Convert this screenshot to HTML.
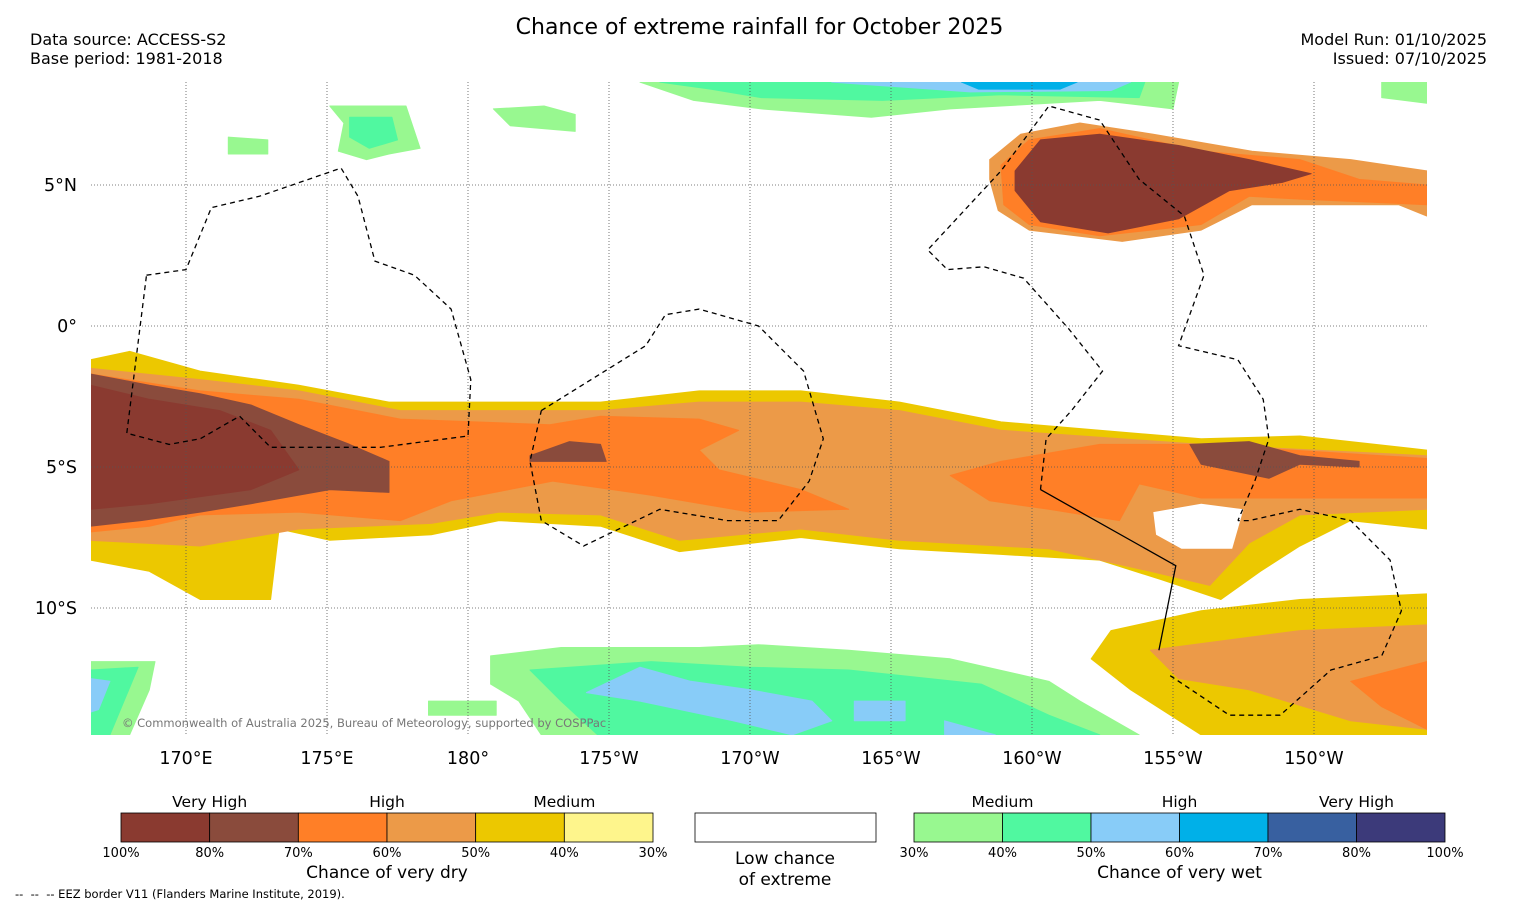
<!DOCTYPE html>
<html><head><meta charset="utf-8"><style>
body{margin:0;background:#fff;font-family:"DejaVu Sans","Liberation Sans",sans-serif;}
#wrap{position:relative;width:1517px;height:908px;overflow:hidden;background:#fff}
.t{position:absolute;white-space:nowrap;color:#000}
svg text{font-family:"DejaVu Sans","Liberation Sans",sans-serif;}
</style></head><body>
<div id="wrap">
<div class="t" style="left:0;width:1519px;text-align:center;top:15px;font-size:22px">Chance of extreme rainfall for October 2025</div>
<div class="t" style="left:30px;top:30px;font-size:16px;line-height:19px">Data source: ACCESS-S2<br>Base period: 1981-2018</div>
<div class="t" style="right:30px;top:30px;font-size:16px;line-height:19px;text-align:right">Model Run: 01/10/2025<br>Issued: 07/10/2025</div>
<svg id="map" width="1517" height="908" style="position:absolute;left:0;top:0"></svg>
<div class="t" style="left:15px;top:887px;font-size:11.5px">-- &nbsp;-- &nbsp;-- EEZ border V11 (Flanders Marine Institute, 2019).</div>
</div>
<script>
const lonTicks=[170,175,180,185,190,195,200,205,210];
const lonLabels=["170°E","175°E","180°","175°W","170°W","165°W","160°W","155°W","150°W"];
const latTicks=[5,0,-5,-10];
const latLabels=["5°N","0°","5°S","10°S"];
const dryColors=["#8a3a30","#8a4b3c","#ff7f27","#ec9a48","#ecc800","#fef58c"];
const dryTicks=["100%","80%","70%","60%","50%","40%","30%"];
const wetColors=["#98f890","#50f8a0","#88ccf8","#00b0e8","#3860a0","#3c3a7a"];
const wetTicks=["30%","40%","50%","60%","70%","80%","100%"];
const C={Y:"#ecc800",LY:"#fef58c",LO:"#ec9a48",O:"#ff7f27",B1:"#8a4b3c",B2:"#8a3a30",G1:"#98f890",G2:"#50f8a0",BL:"#88ccf8",CY:"#00b0e8",W:"#ffffff"};
const regions=[
["Y",[166.6,-1.2,168,-0.9,170.5,-1.6,174,-2.1,177.2,-2.7,184.7,-2.7,188.2,-2.3,191.8,-2.3,195.3,-2.7,198.9,-3.4,202.4,-3.7,206,-4,209.5,-3.9,214,-4.4,214,-7.2,211.3,-6.9,209.5,-7.8,208.1,-8.7,206.7,-9.7,204.6,-9,202.4,-8.3,198.9,-8.1,195.3,-7.9,191.8,-7.5,187.5,-8,184.7,-7.1,181.1,-6.9,178.7,-7.4,175.1,-7.6,173.3,-7.2,173,-9.7,170.5,-9.7,168.7,-8.7,166.6,-8.3]],
["LO",[166.6,-1.5,170.5,-1.9,174,-2.3,177.6,-3,184.7,-3,188.2,-2.7,191.8,-2.7,195.3,-3,198.9,-3.7,206,-4.2,214,-4.6,214,-6.5,209.5,-6.7,207.7,-7.7,206.3,-9.2,204.2,-8.7,200.6,-7.9,195.3,-7.6,191.8,-7.2,187.5,-7.6,184.7,-6.7,181.1,-6.6,178.7,-7,174,-7.2,170.5,-7.8,166.6,-7.6]],
["O",[166.6,-1.7,170.5,-2.3,174,-2.6,177.6,-3.3,182.9,-3.5,184.7,-3.2,188.2,-3.3,189.6,-3.7,188.2,-4.4,188.9,-5.1,191.8,-5.8,193.5,-6.5,190,-6.6,186.5,-6,183,-5.5,179.4,-6.2,177.6,-6.9,174,-6.6,170.5,-6.7,168.7,-7.1,166.6,-7.3]],
["O",[198.9,-4.8,202.4,-4.2,206,-4.2,214,-4.7,214,-6.1,209.5,-6.1,206,-6.1,203.8,-5.6,203.1,-6.9,200.6,-6.5,198.5,-6.2,197.1,-5.3]],
["B1",[166.6,-1.7,168.7,-2.1,170.5,-2.4,172.3,-2.8,174,-3.5,175.8,-4.2,177.2,-4.8,177.2,-5.9,175.1,-5.8,172.3,-6.3,170.5,-6.6,168.4,-6.9,166.6,-7.1]],
["B2",[166.6,-2.1,168.7,-2.6,171.2,-3,173,-3.7,174,-5.1,172.3,-5.8,168.7,-6.3,166.6,-6.5]],
["B1",[205.6,-4.2,207.7,-4.1,209.5,-4.6,211.6,-4.8,211.6,-5,209.5,-4.9,208.4,-5.4,206,-4.9]],
["B1",[182.2,-4.6,183.6,-4.1,184.7,-4.2,184.9,-4.8,182.2,-4.8]],
["W",[204.3,-6.6,206,-6.3,207.5,-6.5,207.1,-7.9,205.3,-7.9,204.4,-7.4]],
["LO",[198.5,5.9,199.6,6.8,201.7,7.2,204.3,6.8,207.8,6.2,211.3,5.9,214,5.5,214,3.9,213,4.3,211.3,4.3,207.8,4.3,206,3.4,203.2,3,199.9,3.4,198.8,4.1,198.5,5.2]],
["O",[198.9,5.7,199.9,6.6,202.4,7,206,6.2,209.5,5.9,211.6,5.2,214,5,214,4.3,209.5,4.5,207.7,4.6,206,3.6,202.4,3.2,199.9,3.6,199,4.3]],
["B2",[199.4,5.5,200.3,6.6,202.4,6.8,205.2,6.4,207.7,5.9,209.9,5.4,208.9,5.1,207,4.8,205.2,3.8,202.7,3.3,200.3,3.7,199.4,4.8]],
["Y",[202.8,-10.8,206,-10.1,209.5,-9.7,214,-9.5,214,-14.5,206,-14.5,203.5,-12.9,202.1,-11.8]],
["LO",[204.2,-11.5,209.5,-10.8,214,-10.6,214,-14.3,211.3,-14,207.7,-12.9,205.2,-12.5]],
["O",[211.3,-12.6,214,-11.9,214,-14.3,212.4,-13.5]],
["G1",[186.1,8.65,205.2,8.65,205,7.7,202.4,8,197.1,7.7,194.3,7.4,190.4,7.7,188,8]],
["G2",[186.8,8.65,204,8.65,203.8,8.1,198.9,8.2,194.7,8,190.4,8.1,188.6,8.4]],
["BL",[192.9,8.65,203.5,8.65,202.8,8.35,197.8,8.3]],
["CY",[197.5,8.65,201.6,8.65,201,8.4,198.1,8.4]],
["G1",[175.1,7.8,177.8,7.8,178.3,6.3,177.2,6.1,176.4,5.9,175.4,6.2,175.6,7.2]],
["G2",[175.8,7.4,177.3,7.4,177.5,6.6,176.5,6.3,175.8,6.7]],
["G1",[180.9,7.7,182.7,7.8,183.8,7.5,183.8,6.9,181.5,7.1]],
["G1",[171.5,6.7,172.9,6.6,172.9,6.1,171.5,6.1]],
["G1",[212.4,8.65,214,8.65,214,7.9,212.4,8.1]],
["G1",[180.8,-11.7,183.3,-11.4,188.2,-11.4,190.3,-11.3,193.5,-11.5,197.1,-11.8,200.6,-12.6,201.7,-13.3,203.8,-14.5,182.6,-14.5,181.8,-13.3,180.8,-12.7]],
["G2",[182.2,-12.2,186.5,-11.9,190,-12.1,193.5,-12.2,198.2,-12.7,200.6,-13.8,202.4,-14.5,184.6,-14.5,183.3,-13.3]],
["BL",[184.2,-13,186.1,-12.1,187.9,-12.6,190,-12.9,192.2,-13.3,192.9,-14,191.5,-14.5,189.4,-14,186.1,-13.3]],
["BL",[193.7,-13.3,195.5,-13.3,195.5,-14,193.7,-14]],
["BL",[196.9,-14,198.7,-14.5,196.9,-14.5]],
["G1",[166.6,-11.9,168.9,-11.9,168.7,-12.9,168,-14.5,166.6,-14.5]],
["G2",[166.6,-12.2,168.3,-12.1,167.8,-13.3,167.3,-14.5,166.6,-14.5]],
["BL",[166.6,-12.5,167.3,-12.6,166.9,-13.6,166.6,-13.7]],
["G1",[178.6,-13.3,181,-13.3,181,-13.8,178.6,-13.8]]
];
const eezDashed=[
[168.6,1.8,170,2,170.9,4.2,172.6,4.6,175.5,5.6,176.1,4.6,176.7,2.3,178.1,1.8,179.4,0.6,180.1,-1.9,180,-3.9,176.9,-4.3,173,-4.3,171.9,-3.2,170.5,-4,169.4,-4.2,167.9,-3.8,168.6,1.8],
[182.6,-3,186.3,-0.7,187,0.4,188.2,0.6,190.3,0,191.9,-1.6,192.6,-4,192.1,-5.5,191,-6.9,189.2,-6.9,186.8,-6.5,184.1,-7.8,182.6,-6.9,182.2,-4.8,182.6,-3],
[200.3,-5.8,200.5,-4,201.4,-3,202.5,-1.6,201.3,-0.1,199.7,1.7,198.3,2.1,197,2,196.3,2.7,198.9,5.5,200.6,7.8,202.4,7.3,203.8,5.2,205.4,3.9,206.1,1.8,205.2,-0.7,207.3,-1.2,208.2,-2.6,208.4,-4,207.9,-5.5,207.3,-6.9],
[204.9,-12.4,207,-13.8,208.8,-13.8,210.6,-12.2,212.4,-11.7,213.1,-10.1,212.7,-8.3,211.3,-6.9,209.5,-6.5,207.7,-6.9,207.3,-6.9]
];
const eezSolid=[200.3,-5.8,205.1,-8.5,204.5,-11.5];
const NS="http://www.w3.org/2000/svg";
const svg=document.getElementById('map');
const X0=91,X1=1427,Y0=82,Y1=735;
function xS(lon){return 186+(lon-170)*28.2;}
function yS(lat){return 326-lat*28.2;}
function pts(a){let s=[];for(let i=0;i<a.length;i+=2)s.push(xS(a[i]).toFixed(1)+","+yS(a[i+1]).toFixed(1));return s.join(" ");}
function mk(tag,attrs,parent){const e=document.createElementNS(NS,tag);for(const k in attrs)e.setAttribute(k,attrs[k]);(parent||svg).appendChild(e);return e;}
const defs=mk('defs',{});const cp=mk('clipPath',{id:'clip'},defs);mk('rect',{x:X0,y:Y0,width:X1-X0,height:Y1-Y0},cp);
const g=mk('g',{'clip-path':'url(#clip)'});
regions.forEach((r,i)=>{const p=mk('polygon',{points:pts(r[1]),fill:C[r[0]],stroke:r[0]==="W"?"none":C[r[0]],'stroke-width':1,'stroke-linejoin':'round'},g);

});
lonTicks.forEach((l,i)=>{const ln=mk('line',{x1:xS(l),x2:xS(l),y1:Y0,y2:Y1,stroke:'#555','stroke-width':0.8,'stroke-dasharray':'1,2'},g);


const t=mk('text',{x:xS(l),y:764,'text-anchor':'middle','font-size':17.5});t.textContent=lonLabels[i];

});
latTicks.forEach((l,i)=>{const ln=mk('line',{x1:X0,x2:X1,y1:yS(l),y2:yS(l),stroke:'#555','stroke-width':0.8,'stroke-dasharray':'1,2'},g);


const t=mk('text',{x:77,y:yS(l)+6,'text-anchor':'end','font-size':17.5});t.textContent=latLabels[i];

});
eezDashed.forEach(a=>{const p=mk('polyline',{points:pts(a),fill:'none',stroke:'#000','stroke-width':1.3,'stroke-dasharray':'5,4'},g);

});
const sl=mk('polyline',{points:pts(eezSolid),fill:'none',stroke:'#000','stroke-width':1.3},g);


const cr=mk('text',{x:122,y:727,'font-size':11.5,fill:'#777'});cr.textContent="© Commonwealth of Australia 2025, Bureau of Meteorology, supported by COSPPac";


function bar(x0,w,colors,ticks,heads,title,name){
 const sw=w/colors.length;
 colors.forEach((c,i)=>{const r=mk('rect',{x:x0+i*sw,y:813,width:sw,height:29,fill:c,stroke:'#000','stroke-width':0.8});
 
 });
 ticks.forEach((t,i)=>{const e=mk('text',{x:x0+i*sw,y:857,'text-anchor':'middle','font-size':13});e.textContent=t;
 
 });
 heads.forEach((h,i)=>{const e=mk('text',{x:x0+sw*(2*i+1),y:807,'text-anchor':'middle','font-size':15.5});e.textContent=h;
 
 });
 const tt=mk('text',{x:x0+w/2,y:878,'text-anchor':'middle','font-size':17});tt.textContent=title;
 
 
}
bar(121,532,dryColors,dryTicks,["Very High","High","Medium"],"Chance of very dry","dry-colorbar");
bar(914,531,wetColors,wetTicks,["Medium","High","Very High"],"Chance of very wet","wet-colorbar");
const lb=mk('rect',{x:695,y:813,width:181,height:29,fill:'#fff',stroke:'#000','stroke-width':0.8});


[["Low chance",864],["of extreme",885]].forEach(a=>{const e=mk('text',{x:785,y:a[1],'text-anchor':'middle','font-size':17});e.textContent=a[0];

});
</script>
</body></html>
